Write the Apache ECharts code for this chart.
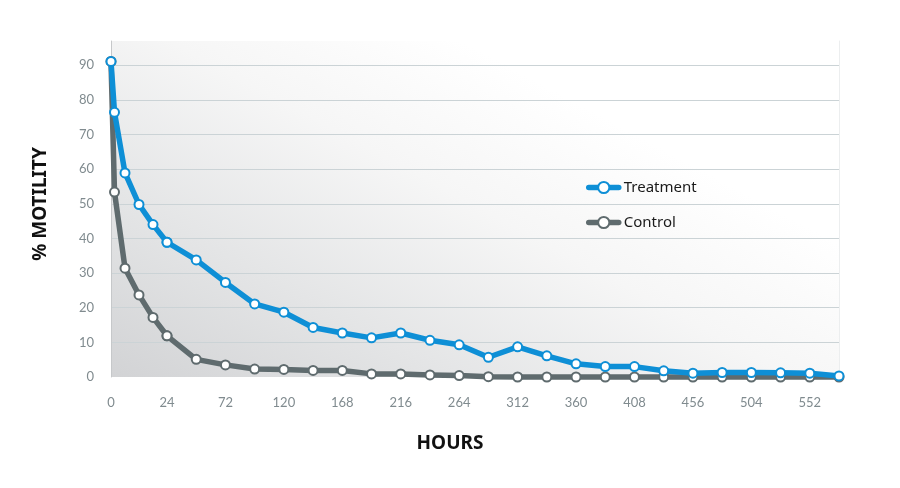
<!DOCTYPE html>
<html>
<head>
<meta charset="utf-8">
<script src="https://cdn.jsdelivr.net/npm/echarts@6/dist/echarts.min.js"></script>
<style>
  html, body { margin: 0; padding: 0; background: #ffffff; }
  #chart { width: 900px; height: 488px; }
</style>
</head>
<body>
<div id="chart"></div>
<script>
// ---- data ----
const hours = [0, 1.5, 6, 12, 18, 24, 48, 72, 96, 120, 144, 168, 192, 216, 240, 264, 288, 312, 336, 360, 384, 408, 432, 456, 480, 504, 528, 552, 576];
const treatment = [91.1, 76.4, 58.9, 49.8, 44.0, 38.9, 33.8, 27.3, 21.1, 18.7, 14.3, 12.7, 11.3, 12.7, 10.6, 9.3, 5.7, 8.7, 6.1, 3.8, 3.0, 3.0, 1.8, 1.1, 1.3, 1.3, 1.2, 1.1, 0.3];
const control = [91.1, 53.4, 31.4, 23.7, 17.2, 11.9, 5.1, 3.5, 2.3, 2.2, 1.9, 1.9, 0.9, 0.9, 0.6, 0.4, 0.1, 0, 0, 0, 0, 0, 0, 0, 0, 0, 0, 0, 0];
const seriesNames = ['Treatment', 'Control'];
const yTicks = [0, 10, 20, 30, 40, 50, 60, 70, 80, 90];
const firstDayEnd = 24;   // the first day is drawn on its own, wider scale
const lastHour = 576;

const BLUE = '#0e8fd6';
const GREY = '#5f6b6e';
const TICK_FONT = { color: '#808b8f', fontSize: 13, fontFamily: 'Lato, "Noto Sans", sans-serif' };
const TITLE_FONT = '"Noto Sans", Lato, sans-serif';

function pairs(values, lo, hi) {
  const out = [];
  hours.forEach((h, i) => { if (h >= lo && h <= hi) out.push([h, values[i]]); });
  return out;
}

function lineSeries(name, color, values, axisIndex, lo, hi, z) {
  return {
    name: name,
    type: 'line',
    xAxisIndex: axisIndex,
    yAxisIndex: axisIndex,
    data: pairs(values, lo, hi),
    symbol: 'emptyCircle',
    symbolSize: 9,
    showAllSymbol: true,
    clip: false,
    z: z,
    lineStyle: { color: color, width: 5.5, cap: 'round', join: 'round' },
    itemStyle: { color: color, borderColor: color, borderWidth: 2 },
    emphasis: { disabled: true },
    animation: false
  };
}

const chart = echarts.init(document.getElementById('chart'), null, { renderer: 'canvas' });

const PLOT_LEFT = 111, PLOT_RIGHT = 61, PLOT_TOP = 41, PLOT_BOTTOM = 111, SPLIT_X = 167;

chart.setOption({
  backgroundColor: '#ffffff',
  animation: false,
  title: {
    text: 'HOURS',
    left: 'center',
    top: 429,
    textStyle: { fontSize: 19, fontWeight: 'bold', color: '#111111', fontFamily: TITLE_FONT }
  },
  legend: {
    data: seriesNames,
    orient: 'vertical',
    left: 581,
    top: 175,
    itemWidth: 30,
    itemHeight: 14,
    itemGap: 20,
    itemStyle: { borderWidth: 2 },
    lineStyle: { width: 5.5 },
    textStyle: { fontSize: 15, color: '#1a1a1a', fontFamily: TITLE_FONT }
  },
  grid: [
    { // full plot area: background, y axis, gridlines
      left: PLOT_LEFT, right: PLOT_RIGHT, top: PLOT_TOP, bottom: PLOT_BOTTOM,
      show: true, borderWidth: 0,
      backgroundColor: new echarts.graphic.LinearGradient(111, 377, 330, -30, [
        { offset: 0, color: '#d2d3d5' },
        { offset: 0.35, color: '#e4e5e6' },
        { offset: 0.7, color: '#f6f6f6' },
        { offset: 1, color: '#ffffff' }
      ], true)
    },
    { left: PLOT_LEFT, width: SPLIT_X - PLOT_LEFT, top: PLOT_TOP, bottom: PLOT_BOTTOM },
    { left: SPLIT_X, right: PLOT_RIGHT, top: PLOT_TOP, bottom: PLOT_BOTTOM }
  ],
  xAxis: [
    { gridIndex: 0, type: 'value', min: 0, max: 1, show: false },
    {
      gridIndex: 1, type: 'value', min: 0, max: firstDayEnd, interval: firstDayEnd,
      axisLine: { show: false }, axisTick: { show: false }, splitLine: { show: false },
      axisLabel: Object.assign({ margin: 19 }, TICK_FONT)
    },
    {
      gridIndex: 2, type: 'value', min: firstDayEnd, max: lastHour, interval: 48,
      axisLine: { show: false }, axisTick: { show: false }, splitLine: { show: false },
      axisLabel: Object.assign({
        margin: 19, showMinLabel: false, showMaxLabel: false,
        formatter: v => ((v - firstDayEnd) % 48 === 0 && v < lastHour ? String(v) : '')
      }, TICK_FONT)
    }
  ],
  yAxis: [
    {
      gridIndex: 0, type: 'value', min: 0, max: 97, interval: 10,
      name: '% MOTILITY', nameLocation: 'middle', nameGap: 61, nameRotate: 90,
      nameTextStyle: { fontSize: 19, fontWeight: 'bold', color: '#111111', fontFamily: TITLE_FONT, padding: [0, 0, 0, 10] },
      axisLine: { show: true, lineStyle: { color: '#c6c8ca', width: 1 } },
      axisTick: { show: false },
      axisLabel: Object.assign({
        margin: 17, showMaxLabel: false,
        formatter: v => (yTicks.indexOf(v) >= 0 ? String(v) : '')
      }, TICK_FONT),
      splitLine: { show: true, showMinLine: false, showMaxLine: false, lineStyle: { color: '#cbd3d6', width: 1 } }
    },
    { gridIndex: 1, type: 'value', min: 0, max: 97, show: false, splitLine: { show: false } },
    { gridIndex: 2, type: 'value', min: 0, max: 97, show: false, splitLine: { show: false } },
    { // faint right edge
      gridIndex: 0, type: 'value', min: 0, max: 97, position: 'right',
      axisLine: { show: true, lineStyle: { color: '#eceeef', width: 1 } },
      axisTick: { show: false }, axisLabel: { show: false }, splitLine: { show: false }
    }
  ],
  series: [
    lineSeries('Control', GREY, control, 1, 0, firstDayEnd, 2),
    lineSeries('Control', GREY, control, 2, firstDayEnd, lastHour, 2),
    lineSeries('Treatment', BLUE, treatment, 1, 0, firstDayEnd, 3),
    lineSeries('Treatment', BLUE, treatment, 2, firstDayEnd, lastHour, 3)
  ]
});
</script>
</body>
</html>
